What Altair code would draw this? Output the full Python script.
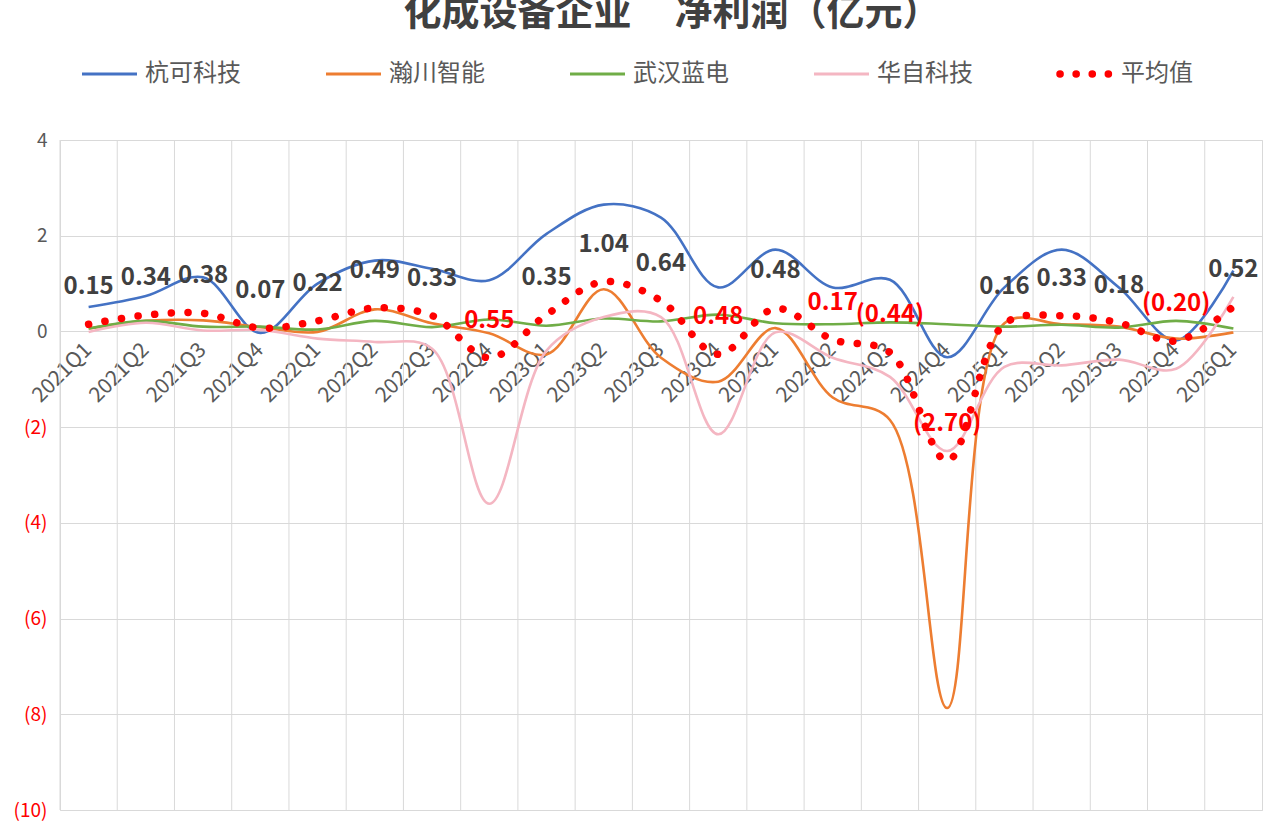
import altair as alt
import pandas as pd

quarters = ["2021Q1", "2021Q2", "2021Q3", "2021Q4", "2022Q1", "2022Q2", "2022Q3",
            "2022Q4", "2023Q1", "2023Q2", "2023Q3", "2023Q4", "2024Q1", "2024Q2",
            "2024Q3", "2024Q4", "2025Q1", "2025Q2", "2025Q3", "2025Q4", "2026Q1"]

hangke = [0.51, 0.74, 1.13, -0.03, 1.00, 1.48, 1.31, 1.07, 2.04, 2.65, 2.38, 0.92,
          1.71, 0.92, 1.08, -0.54, 0.92, 1.71, 0.92, -0.19, 1.27]
hanchuan = [0.06, 0.22, 0.23, 0.09, -0.01, 0.46, 0.17, -0.04, -0.48, 0.88, -0.55, -1.05,
            0.07, -1.38, -1.85, -7.87, 0.17, 0.15, 0.10, -0.15, -0.02]
wuhan = [0.06, 0.22, 0.10, 0.10, 0.04, 0.22, 0.09, 0.25, 0.12, 0.27, 0.21, 0.35,
         0.17, 0.15, 0.19, 0.15, 0.10, 0.14, 0.08, 0.22, 0.06]
huazi = [-0.01, 0.18, 0.02, 0.03, -0.15, -0.22, -0.36, -3.60, -0.40, 0.30, 0.30, -2.15,
         -0.02, -0.55, -0.95, -2.50, -0.74, -0.71, -0.59, -0.78, 0.72]
average = [0.15, 0.34, 0.38, 0.07, 0.22, 0.49, 0.33, -0.55, 0.35, 1.04, 0.64, -0.48,
           0.48, -0.17, -0.44, -2.70, 0.16, 0.33, 0.18, -0.20, 0.52]
avg_labels = ["0.15", "0.34", "0.38", "0.07", "0.22", "0.49", "0.33", "0.55", "0.35",
              "1.04", "0.64", "0.48", "0.48", "0.17", "(0.44)", "(2.70)", "0.16", "0.33",
              "0.18", "(0.20)", "0.52"]

series_names = ["杭可科技", "瀚川智能", "武汉蓝电", "华自科技"]
series_colors = ["#4472C4", "#ED7D31", "#70AD47", "#F4B6C2"]
avg_name = "平均值"
avg_color = "#FF0000"
title_text = "化成设备企业\u00a0\u00a0\u00a0\u00a0\u00a0净利润（亿元）"
y_ticks = [-10, -8, -6, -4, -2, 0, 2, 4]

W, H = 1202, 670
FONT = "Noto Sans CJK SC"
INTERP = "catmull-rom"

rows = []
for name, vals in zip(series_names, [hangke, hanchuan, wuhan, huazi]):
    for q, v in zip(quarters, vals):
        rows.append({"quarter": q, "series": name, "value": v})
df = pd.DataFrame(rows)
avg_df = pd.DataFrame({"quarter": quarters, "value": average, "label": avg_labels})
grid_df = pd.DataFrame({"quarter": quarters})

zero_px = H * (4 - 0) / 14.0

def xenc(band_pos=None):
    kw = {}
    if band_pos is not None:
        kw["bandPosition"] = band_pos
    return alt.X(
        "quarter:N", sort=quarters,
        scale=alt.Scale(type="band", domain=quarters, paddingInner=0, paddingOuter=0),
        axis=alt.Axis(title=None, grid=False, domain=False, ticks=False,
                      labelAngle=-45, labelAlign="right", labelBaseline="middle",
                      labelPadding=15, labelFontSize=21, labelColor="#595959",
                      labelFont=FONT, offset=-(H - zero_px)),
        **kw)

yenc = alt.Y(
    "value:Q",
    scale=alt.Scale(domain=[-10, 4], nice=False, zero=False),
    axis=alt.Axis(title=None, values=y_ticks, grid=True, gridColor="#d9d9d9",
                  domain=False, ticks=False, labelPadding=13, labelFontSize=19,
                  labelFont=FONT,
                  labelExpr="datum.value < 0 ? '(' + abs(datum.value) + ')' : datum.value",
                  labelColor=alt.condition("datum.value < 0", alt.value("#FF0000"),
                                           alt.value("#595959"))))

grid = alt.Chart(grid_df).mark_rule(color="#d9d9d9", strokeWidth=1).encode(x=xenc(0))

line_layers = []
for name, col in zip(series_names, series_colors):
    line_layers.append(
        alt.Chart(df).transform_filter(alt.datum.series == name)
        .mark_line(interpolate=INTERP, strokeWidth=2.6, color=col)
        .encode(x=xenc(), y=yenc))

avg_line = alt.Chart(avg_df).mark_line(
    interpolate=INTERP, color=avg_color, strokeWidth=7.5,
    strokeDash=[0.1, 16.6], strokeCap="round").encode(x=xenc(), y=yenc)

avg_text = alt.Chart(avg_df).mark_text(
    dy=-37, fontSize=24, fontWeight="bold", font=FONT).encode(
    x=xenc(), y=yenc, text="label:N",
    color=alt.condition(alt.datum.value < 0, alt.value("#FF0000"), alt.value("#404040")))

one = pd.DataFrame({"a": [0]})
title = alt.Chart(one).mark_text(
    fontSize=38, fontWeight="bold", font=FONT, color="#404040",
    align="center", baseline="alphabetic").encode(
    x=alt.value(612), y=alt.value(-115), text=alt.value(title_text))

legend_layers = []
leg_names = series_names + [avg_name]
leg_colors = series_colors + [avg_color]
for i, (name, col) in enumerate(zip(leg_names, leg_colors)):
    x0 = 22 + 244 * i
    if name == avg_name:
        mk = alt.Chart(one).mark_rule(color=col, strokeWidth=7.5, strokeDash=[0.1, 16],
                                      strokeCap="round")
        mk = mk.encode(x=alt.value(x0 + 2), x2=alt.value(x0 + 51), y=alt.value(-66))
    else:
        mk = alt.Chart(one).mark_rule(color=col, strokeWidth=3).encode(
            x=alt.value(x0), x2=alt.value(x0 + 55), y=alt.value(-66))
    tx = alt.Chart(one).mark_text(fontSize=24, font=FONT, color="#595959",
                                  align="left", baseline="middle").encode(
        x=alt.value(x0 + 63), y=alt.value(-66), text=alt.value(name))
    legend_layers += [mk, tx]

chart = alt.layer(grid, *line_layers, avg_line, avg_text, title, *legend_layers).properties(
    width=W, height=H,
    padding={"left": 60, "top": 140, "right": 18, "bottom": 23},
    autosize=alt.AutoSizeParams(type="none"),
    background="white",
).configure_view(stroke="#d9d9d9", strokeWidth=1)

chart.save("out.html", embed_options={"renderer": "svg", "actions": False})
